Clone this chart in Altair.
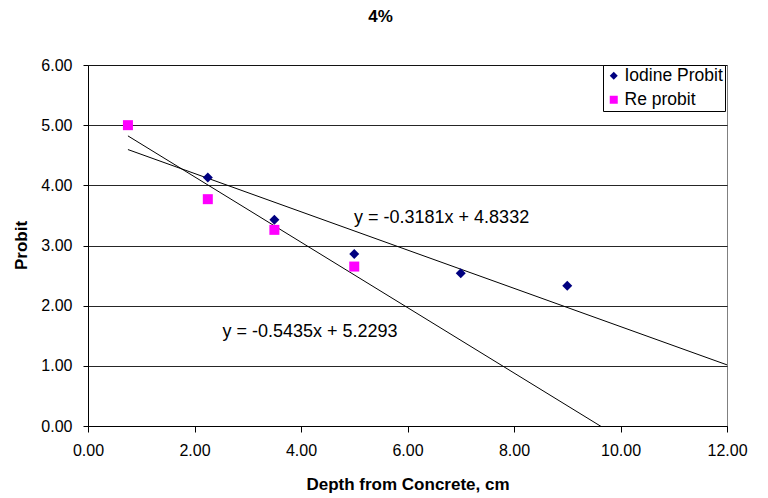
import altair as alt
import pandas as pd

# ---- data ----
iodine_x = [2.25, 3.5, 5.0, 7.0, 9.0]
iodine_y = [4.13, 3.43, 2.86, 2.54, 2.33]
re_x = [0.75, 2.25, 3.5, 5.0]
re_y = [5.00, 3.77, 3.26, 2.65]

series_names = ["Iodine Probit", "Re probit"]
trend_slopes = [-0.3181, -0.5435]
trend_intercepts = [4.8332, 5.2293]
trend_x_range = [0.75, 12.0]
trend_labels = ["y = -0.3181x + 4.8332", "y = -0.5435x + 5.2293"]
label_x = [6.64, 4.17]
label_y = [3.46, 1.57]

x_ticks = [0, 2, 4, 6, 8, 10, 12]
y_ticks = [0, 1, 2, 3, 4, 5, 6]

FONT = "Liberation Sans"

points = pd.DataFrame(
    [{"series": series_names[0], "x": a, "y": b} for a, b in zip(iodine_x, iodine_y)]
    + [{"series": series_names[1], "x": a, "y": b} for a, b in zip(re_x, re_y)]
)

trend_rows = []
for name, m, b in zip(series_names, trend_slopes, trend_intercepts):
    for xv in trend_x_range:
        trend_rows.append({"series": name, "x": xv, "y": m * xv + b})
trend = pd.DataFrame(trend_rows)

labels = pd.DataFrame({"x": label_x, "y": label_y, "text": trend_labels})

xscale = alt.Scale(domain=[0, 12], nice=False, zero=False)
yscale = alt.Scale(domain=[0, 6], nice=False, zero=False)

xaxis = alt.Axis(
    title="Depth from Concrete, cm", values=x_ticks, format=".2f", grid=False,
    tickSize=6, labelPadding=10, titleY=58, titleBaseline="middle", labelFlush=False,
)
yaxis = alt.Axis(
    title="Probit", values=y_ticks, format=".2f", grid=True,
    tickSize=5, labelPadding=11, titleX=-67, titleY=180, titleBaseline="middle",
    labelFlush=False,
)

pts = alt.Chart(points).mark_point(filled=True, opacity=1, size=100).encode(
    x=alt.X("x:Q", scale=xscale, axis=xaxis),
    y=alt.Y("y:Q", scale=yscale, axis=yaxis),
    color=alt.Color(
        "series:N",
        scale=alt.Scale(domain=series_names, range=["#000080", "#FF00FF"]),
        legend=alt.Legend(
            title=None, orient="none", legendX=515, legendY=0,
            strokeColor="black", fillColor="white", padding=2,
            labelFontSize=17.5, labelFont=FONT, symbolSize=64,
            rowPadding=5, labelOffset=2,
        ),
    ),
    shape=alt.Shape(
        "series:N",
        scale=alt.Scale(domain=series_names, range=["diamond", "square"]),
        legend=None,
    ),
)

lines = alt.Chart(trend).mark_line(color="black", strokeWidth=1, clip=True).encode(
    x=alt.X("x:Q", scale=xscale),
    y=alt.Y("y:Q", scale=yscale),
    detail="series:N",
)

texts = alt.Chart(labels).mark_text(font=FONT, fontSize=18, color="black").encode(
    x=alt.X("x:Q", scale=xscale),
    y=alt.Y("y:Q", scale=yscale),
    text="text:N",
)

chart = (
    alt.layer(lines, pts, texts)
    .properties(
        width=639, height=361,
        title=alt.TitleParams("4%", fontSize=17, font=FONT, fontWeight="bold",
                              anchor="middle", offset=31, dx=-27),
        autosize=alt.AutoSizeParams(type="none"),
        padding={"left": 88, "top": 65, "right": 41, "bottom": 72},
        background="white",
    )
    .configure_view(stroke="#808080", strokeWidth=1)
    .configure_axis(
        labelFont=FONT, labelFontSize=16, labelColor="black",
        titleFont=FONT, titleFontSize=17, titleFontWeight="bold", titleColor="black",
        domainColor="black", tickColor="black", gridColor="#000000", gridWidth=1,
        gridOpacity=0.85,
    )
)

chart.save("out.html", embed_options={"renderer": "svg", "actions": False})
